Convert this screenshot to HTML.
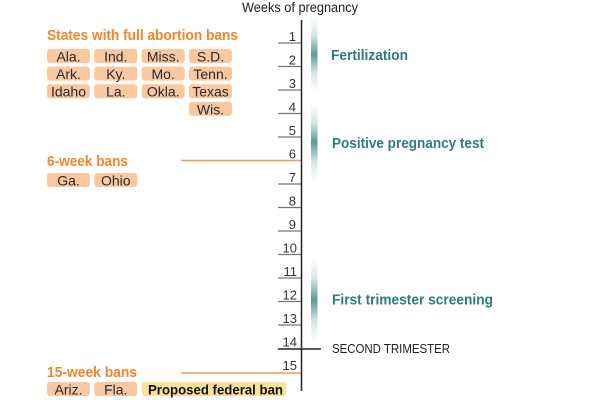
<!DOCTYPE html>
<html>
<head>
<meta charset="utf-8">
<style>
html,body{margin:0;padding:0;background:#fff;}
svg{display:block;}
text{font-family:"Liberation Sans",sans-serif;}
.num{font-size:13px;fill:#333;text-anchor:end;}
.pill{fill:#f9c8a0;}
.pt{font-size:14px;fill:#2a2a2a;text-anchor:middle;}
.or{font-size:14.5px;font-weight:bold;fill:#f2852a;}
.teal{font-size:15px;font-weight:bold;fill:#2f7b7b;}
</style>
</head>
<body>
<svg width="600" height="400" viewBox="0 0 600 400" xmlns="http://www.w3.org/2000/svg">
<defs>
<linearGradient id="g" x1="0" y1="0" x2="0" y2="1">
<stop offset="0" stop-color="#5e9999" stop-opacity="0"/>
<stop offset="0.25" stop-color="#5e9999" stop-opacity="0.25"/>
<stop offset="0.5" stop-color="#5e9999" stop-opacity="1"/>
<stop offset="0.75" stop-color="#5e9999" stop-opacity="0.25"/>
<stop offset="1" stop-color="#5e9999" stop-opacity="0"/>
</linearGradient>
</defs>

<text x="242" y="12" font-size="13.5" fill="#222" textLength="116" lengthAdjust="spacingAndGlyphs">Weeks of pregnancy</text>

<!-- gradient bars -->
<rect x="311" y="17" width="6.5" height="75" fill="url(#g)"/>
<rect x="311" y="103" width="6.5" height="78" fill="url(#g)"/>
<rect x="311" y="258" width="6.5" height="84" fill="url(#g)"/>

<!-- ticks -->
<g stroke="#777" stroke-width="1.3">
<line x1="278" y1="43" x2="301" y2="43"/>
<line x1="278" y1="66.5" x2="301" y2="66.5"/>
<line x1="278" y1="90" x2="301" y2="90"/>
<line x1="278" y1="113.5" x2="301" y2="113.5"/>
<line x1="278" y1="137" x2="301" y2="137"/>
<line x1="278" y1="184" x2="301" y2="184"/>
<line x1="278" y1="207.5" x2="301" y2="207.5"/>
<line x1="278" y1="231" x2="301" y2="231"/>
<line x1="278" y1="254.5" x2="301" y2="254.5"/>
<line x1="278" y1="278" x2="301" y2="278"/>
<line x1="278" y1="301.5" x2="301" y2="301.5"/>
<line x1="278" y1="325" x2="301" y2="325"/>
</g>
<line x1="278" y1="349" x2="321" y2="349" stroke="#222" stroke-width="1.5"/>
<line x1="181" y1="160.5" x2="301" y2="160.5" stroke="#f29a55" stroke-width="1.5"/>
<line x1="181" y1="373" x2="301" y2="373" stroke="#f29a55" stroke-width="1.5"/>
<line x1="301.5" y1="20" x2="301.5" y2="391" stroke="#222" stroke-width="1.5"/>

<!-- numbers -->
<g class="num">
<text x="296" y="41">1</text>
<text x="296" y="64.5">2</text>
<text x="296" y="88">3</text>
<text x="296" y="111.5">4</text>
<text x="296" y="135">5</text>
<text x="296" y="158.5">6</text>
<text x="296" y="182">7</text>
<text x="296" y="205.5">8</text>
<text x="296" y="229">9</text>
<text x="297" y="252.5">10</text>
<text x="297" y="276">11</text>
<text x="297" y="299.5">12</text>
<text x="297" y="323">13</text>
<text x="297" y="346.5">14</text>
<text x="297" y="370">15</text>
</g>

<!-- right labels -->
<text class="teal" x="331" y="60" textLength="77" lengthAdjust="spacingAndGlyphs">Fertilization</text>
<text class="teal" x="332" y="148" textLength="152" lengthAdjust="spacingAndGlyphs">Positive pregnancy test</text>
<text class="teal" x="332" y="304.5" textLength="161" lengthAdjust="spacingAndGlyphs">First trimester screening</text>
<text x="332" y="353" font-size="13" fill="#222" textLength="118" lengthAdjust="spacingAndGlyphs">SECOND TRIMESTER</text>

<!-- left -->
<text class="or" x="47" y="40" textLength="191" lengthAdjust="spacingAndGlyphs">States with full abortion bans</text>

<g>
<rect class="pill" x="47" y="49" width="43" height="14" rx="3"/>
<rect class="pill" x="94.3" y="49" width="43" height="14" rx="3"/>
<rect class="pill" x="141.7" y="49" width="43" height="14" rx="3"/>
<rect class="pill" x="189" y="49" width="43" height="14" rx="3"/>
<rect class="pill" x="47" y="66.6" width="43" height="14" rx="3"/>
<rect class="pill" x="94.3" y="66.6" width="43" height="14" rx="3"/>
<rect class="pill" x="141.7" y="66.6" width="43" height="14" rx="3"/>
<rect class="pill" x="189" y="66.6" width="43" height="14" rx="3"/>
<rect class="pill" x="47" y="84.2" width="43" height="14" rx="3"/>
<rect class="pill" x="94.3" y="84.2" width="43" height="14" rx="3"/>
<rect class="pill" x="141.7" y="84.2" width="43" height="14" rx="3"/>
<rect class="pill" x="189" y="84.2" width="43" height="14" rx="3"/>
<rect class="pill" x="189" y="101.8" width="43" height="14" rx="3"/>
</g>
<g class="pt">
<text x="68.5" y="61.5">Ala.</text>
<text x="115.8" y="61.5">Ind.</text>
<text x="163.2" y="61.5">Miss.</text>
<text x="210.5" y="61.5">S.D.</text>
<text x="68.5" y="79.1">Ark.</text>
<text x="115.8" y="79.1">Ky.</text>
<text x="163.2" y="79.1">Mo.</text>
<text x="210.5" y="79.1">Tenn.</text>
<text x="68.5" y="96.7">Idaho</text>
<text x="115.8" y="96.7">La.</text>
<text x="163.2" y="96.7">Okla.</text>
<text x="210.5" y="96.7">Texas</text>
<text x="210.5" y="114.3">Wis.</text>
</g>

<text class="or" x="47" y="166" textLength="81" lengthAdjust="spacingAndGlyphs">6-week bans</text>
<rect class="pill" x="47" y="173" width="43" height="14" rx="3"/>
<rect class="pill" x="94.3" y="173" width="43" height="14" rx="3"/>
<text class="pt" x="68.5" y="185.5">Ga.</text>
<text class="pt" x="115.8" y="185.5">Ohio</text>

<text class="or" x="47" y="377" textLength="90" lengthAdjust="spacingAndGlyphs">15-week bans</text>
<rect class="pill" x="47" y="382" width="43" height="14" rx="3"/>
<rect class="pill" x="94.3" y="382" width="43" height="14" rx="3"/>
<rect x="141.7" y="382" width="144.5" height="14" rx="3" fill="#fbe29a"/>
<text class="pt" x="68.5" y="394.5">Ariz.</text>
<text class="pt" x="115.8" y="394.5">Fla.</text>
<text x="148" y="394.5" font-size="14" font-weight="bold" fill="#111" textLength="135" lengthAdjust="spacingAndGlyphs">Proposed federal ban</text>
</svg>
</body>
</html>
